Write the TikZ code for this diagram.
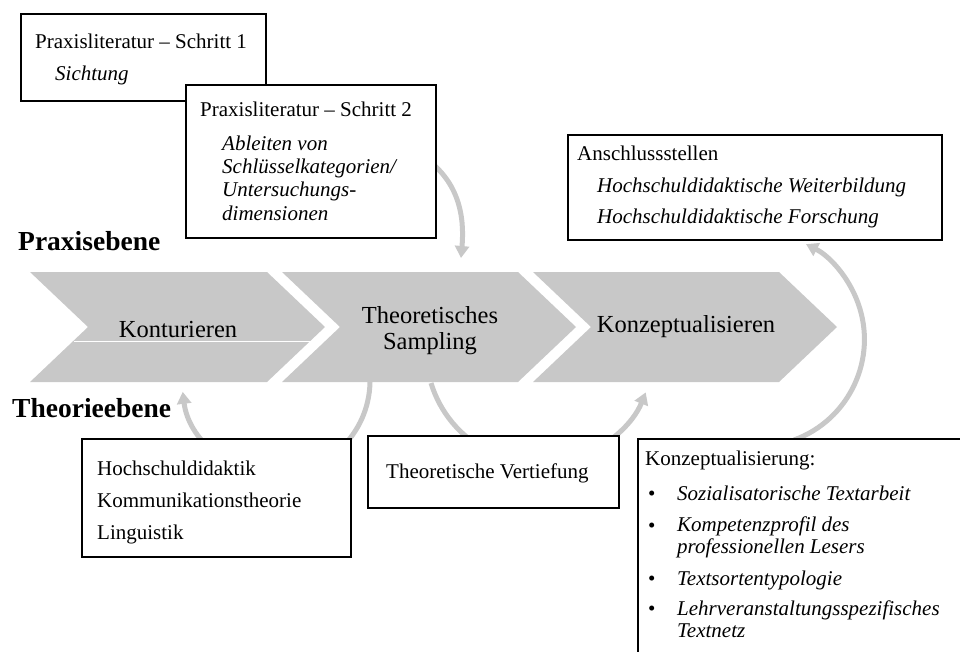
\documentclass[tikz,border=0pt]{standalone}
\usepackage{fontspec}
\setmainfont{Liberation Serif}
\usepackage{tikz}
\usetikzlibrary{
	arrows.meta,									% Pfeilspitzen
	positioning,									% Platzierung der Knoten
}

\definecolor{chevgray}{RGB}{200,200,200}

\tikzset{
	infobox/.style={draw, line width=1.6pt, fill=white, anchor=north west, inner sep=0pt},
	boxtext/.style={font=\fontsize{21}{23}\selectfont, anchor=base west, inner sep=0pt, align=left},
	itemtext/.style={boxtext, font=\fontsize{21}{23.3}\selectfont\itshape},
	chevtext/.style={font=\fontsize{24.5}{26}\selectfont, inner sep=0pt, align=center},
	levellabel/.style={font=\fontsize{27.5}{30}\selectfont\bfseries, anchor=base west, inner sep=0pt},
	cyclearrow/.style={draw=chevgray, line width=5pt, -{Triangle[length=12pt, width=14pt]}},
}

\begin{document}
\begin{tikzpicture}[x=1pt, y=-1pt]
		\useasboundingbox (0,0) rectangle (960,651);
		\clip (0,0) rectangle (960,651);
		% Kreispfeile (unter Pfeilen und Kaesten)
		\coordinate (a1s) at (425,158);
		\coordinate (a1e) at (461,258);
		\coordinate (a2s) at (370,382);
		\coordinate (a3s) at (431,383);
		\coordinate (a4s) at (794,440);
		\draw[cyclearrow] (a1s) to[out=-35, in=85] (a1e);
		\draw[cyclearrow] (a2s) arc[start angle=-1, end angle=-173, radius=94pt];
		\draw[cyclearrow] (a3s) arc[start angle=197, end angle=338, radius=114pt];
		\draw[cyclearrow] (a4s) arc[start angle=-70, end angle=63, radius=107pt];
		% Prozesspfeile
		\foreach \l/\r in {30/267, 282/518, 533/779}
			\fill[chevgray] (\l,272) -- (\r,272) -- (\r+58,327) -- (\r,382) -- (\l,382) -- (\l+58,327) -- cycle;
		\draw[white, line width=0.8pt] (74,341) -- (311,341);
		\node[chevtext, anchor=base] (kontur) at (178,337) {Konturieren};
		\node[chevtext] (sampling) at (430,331) {Theoretisches\\Sampling};
		\node[chevtext, anchor=base] (konzept) at (686,332) {Konzeptualisieren};
		% Ebenen
		\node[levellabel] (praxis) at (18,250) {Praxisebene};
		\node[levellabel] (theorie) at (12,417) {Theorieebene};
		% Praxisliteratur
		\node[infobox, minimum width=245pt, minimum height=87pt] (schritt1) at (20,13) {};
		\node[boxtext] (s1head) at (35,48) {Praxisliteratur – Schritt 1};
		\node[itemtext] (s1item) at (55,80) {Sichtung};
		\node[infobox, minimum width=250pt, minimum height=153pt] (schritt2) at (185,84) {};
		\node[boxtext] (s2head) at (200,116) {Praxisliteratur – Schritt 2};
		% Grundlinie der letzten Zeile
		\node[itemtext] (s2item) at (222,220) {Ableiten von\\Schlüsselkategorien/\\Untersuchungs-\\dimensionen};
		% Anschlussstellen
		\node[infobox, minimum width=374pt, minimum height=105pt] (anschluss) at (567,134) {};
		\node[boxtext] (anhead) at (577,160) {Anschlussstellen};
		\node[itemtext] (an1) at (597,192) {Hochschuldidaktische Weiterbildung};
		\node[itemtext] (an2) at (597,223) {Hochschuldidaktische Forschung};
		% Theorie
		\node[infobox, minimum width=269pt, minimum height=118pt] (theorien) at (81,438) {};
		\node[boxtext] (th1) at (97,475) {Hochschuldidaktik};
		\node[boxtext] (th2) at (97,507) {Kommunikationstheorie};
		\node[boxtext] (th3) at (97,539) {Linguistik};
		\node[infobox, minimum width=251pt, minimum height=72pt] (vertiefung) at (367,435) {};
		\node[boxtext] (vt) at (386,478) {Theoretische Vertiefung};
		% Konzeptualisierung
		\node[infobox, minimum width=340pt, minimum height=240pt] (konzbox) at (637,438) {};
		\node[boxtext] (kzhead) at (645,465) {Konzeptualisierung:};
		\foreach \yy in {500,532,585,615}
			\node[boxtext] (bullet\yy) at (648,\yy) {•};
		\node[itemtext] (kz1) at (677,500) {Sozialisatorische Textarbeit};
		\node[itemtext, font=\fontsize{21}{21.5}\selectfont\itshape] (kz2) at (677,553) {Kompetenzprofil des\\professionellen Lesers};
		\node[itemtext] (kz3) at (677,585) {Textsortentypologie};
		\node[itemtext, font=\fontsize{21}{21.5}\selectfont\itshape] (kz4) at (677,637) {Lehrveranstaltungsspezifisches\\Textnetz};
	\end{tikzpicture}
\end{document}
